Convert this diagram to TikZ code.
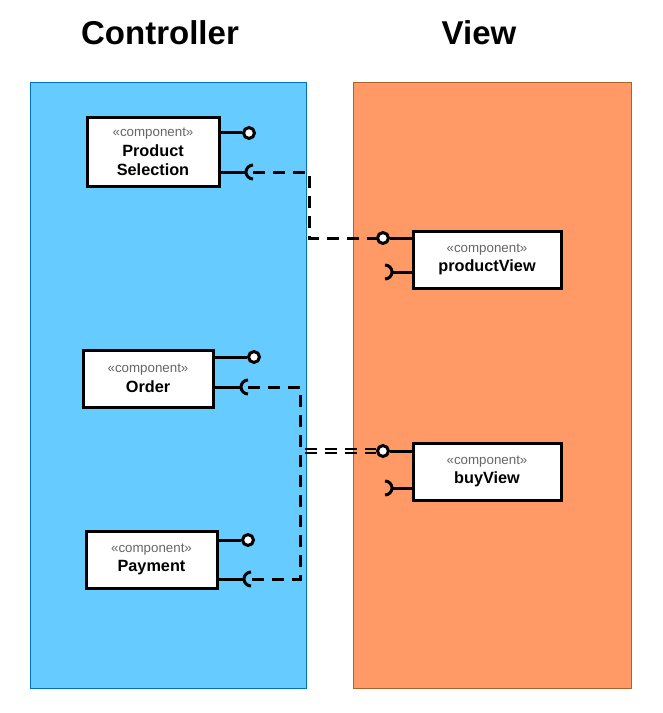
\documentclass[tikz,border=0pt]{standalone}
\usepackage{fontspec}
\setmainfont{Liberation Sans}
\definecolor{ctrlfill}{HTML}{66CCFF}
\definecolor{ctrlline}{HTML}{0070C0}
\definecolor{viewfill}{HTML}{FF9966}
\definecolor{viewline}{HTML}{B0602A}
\definecolor{stereogray}{HTML}{666666}
\newcommand{\stereotxt}{{\fontsize{10}{12}\selectfont\mdseries\color{stereogray}«component»}}
\tikzset{
  lane/.style={line width=0.75pt},
  title/.style={font=\fontsize{24.75}{30}\selectfont\bfseries},
  comp/.style={draw=black, line width=2.25pt, fill=white, align=center, inner sep=0pt,
    font=\fontsize{12.2}{14.8}\selectfont\bfseries},
  lolli/.style={circle, draw=black, line width=2.25pt, fill=white, minimum size=8.2pt, inner sep=0pt},
  stub/.style={line width=2.25pt},
  conndash/.style={line width=2.25pt, dash pattern=on 9pt off 6pt},
  conndashthin/.style={line width=2pt, dash pattern=on 9pt off 6pt},
}
\begin{document}
\begin{tikzpicture}[x=0.75pt,y=-0.75pt]
\useasboundingbox (0,0) rectangle (663,713);
% lanes
\draw[lane, draw=ctrlline, fill=ctrlfill] (30,83) rectangle (306,688);
\draw[lane, draw=viewline, fill=viewfill] (353,83) rectangle (631,688);
\node[title] (tc) at (160,33) {Controller};
\node[title] (tv) at (479,33) {View};
% components
\node[comp, minimum width=99pt, minimum height=51pt] (ps) at (153,152)
  {\stereotxt\\Product\\Selection};
\node[comp, minimum width=97.5pt, minimum height=42.75pt] (or) at (148,378.5)
  {\stereotxt\\Order};
\node[comp, minimum width=98.25pt, minimum height=42.75pt] (pa) at (151.5,559.5)
  {\stereotxt\\Payment};
\node[comp, minimum width=111pt, minimum height=42.75pt] (pv) at (487,259.5)
  {\stereotxt\\productView};
\node[comp, minimum width=111pt, minimum height=42.75pt] (bv) at (487,471.5)
  {\stereotxt\\buyView};
% provided interfaces (lollipops)
\node[lolli] (psP) at (249,133) {};
\node[lolli] (orP) at (254,357) {};
\node[lolli] (paP) at (248,540) {};
\node[lolli] (pvL) at (383,238) {};
\node[lolli] (bvL) at (383,451) {};
\draw[stub] (psP) -- (psP -| ps.east);
\draw[stub] (orP) -- (orP -| or.east);
\draw[stub] (paP) -- (paP -| pa.east);
\draw[stub] (pvL) -- (pvL -| pv.west);
\draw[stub] (bvL) -- (bvL -| bv.west);
% required interfaces (sockets)
\coordinate (psR) at (253,172);
\coordinate (orR) at (248,387);
\coordinate (paR) at (251,579);
\coordinate (pvR) at (385,272);
\coordinate (bvR) at (385,488);
\draw[stub] (psR -| ps.east) -- ([xshift=-5.25pt]psR);
\draw[stub] (psR) ++(0,7) arc[start angle=90, end angle=270, radius=7];
\draw[stub] (orR -| or.east) -- ([xshift=-5.25pt]orR);
\draw[stub] (orR) ++(0,7) arc[start angle=90, end angle=270, radius=7];
\draw[stub] (paR -| pa.east) -- ([xshift=-5.25pt]paR);
\draw[stub] (paR) ++(0,7) arc[start angle=90, end angle=270, radius=7];
\draw[stub] (pvR -| pv.west) -- ([xshift=5.25pt]pvR);
\draw[stub] (pvR) ++(0,-7) arc[start angle=-90, end angle=90, radius=7];
\draw[stub] (bvR -| bv.west) -- ([xshift=5.25pt]bvR);
\draw[stub] (bvR) ++(0,-7) arc[start angle=-90, end angle=90, radius=7];
% dependencies
\coordinate (bendA) at (309,200);
\coordinate (bendB) at (300,451);
\coordinate (dblS) at (305,451);
\draw[conndash] (psR) -| (bendA) |- (pvL.center);
\draw[conndash] (orR) -| (bendB) |- (paR);
\draw[conndashthin] ([yshift=1.6pt]dblS) -- ([yshift=1.6pt]bvL.west);
\draw[conndashthin] ([yshift=-1.6pt]dblS) -- ([yshift=-1.6pt]bvL.west);
\end{tikzpicture}
\end{document}
